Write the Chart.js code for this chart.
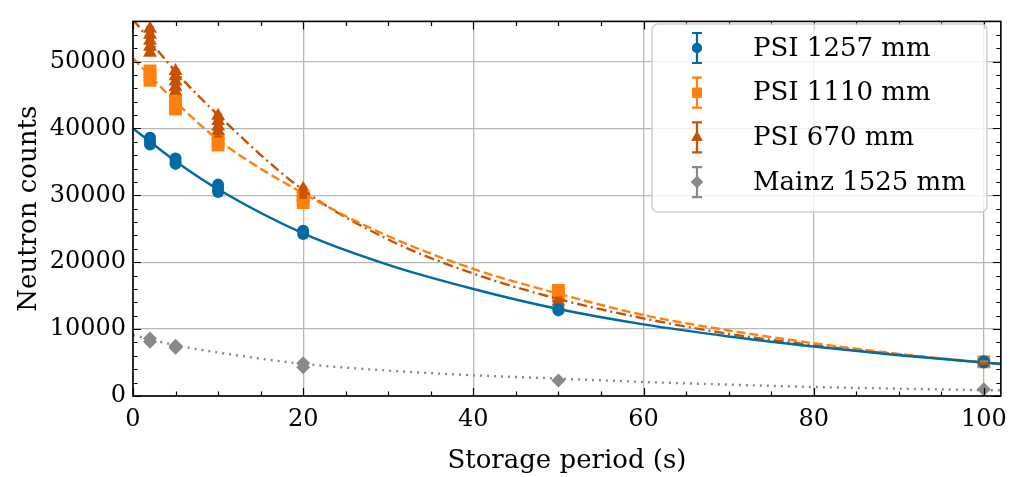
<!DOCTYPE html>
<html>
<head>
<meta charset="utf-8">
<script src="https://cdn.jsdelivr.net/npm/chart.js@4.4.1/dist/chart.umd.min.js"></script>
<style>
  html, body { margin: 0; padding: 0; background: #fff; }
  #wrap { width: 1016px; height: 477px; }
</style>
</head>
<body>
<div id="wrap"><canvas id="c" width="1016" height="477"></canvas></div>
<script>
// tick labels
const xTicks = [0, 20, 40, 60, 80, 100];
const yTicks = [0, 10000, 20000, 30000, 40000, 50000];

// fitted curves
const fitX = [0, 5, 10, 20, 30, 40, 50, 60, 70, 80, 90, 100, 102];
const fit1257 = [40000, 35100, 30900, 24300, 19600, 16000, 13000, 10700, 8900, 7400, 6100, 5000, 4800];
const fit1110 = [50500, 44000, 38300, 30300, 23900, 19000, 15300, 12100, 9800, 7900, 6300, 5000, 4750];
const fit670 = [56300, 48500, 42000, 30800, 23400, 18300, 14500, 11600, 9300, 7600, 6200, 5000, 4800];
const fitMainz = [9100, 7600, 6500, 4800, 3800, 3100, 2600, 2100, 1700, 1350, 1100, 880, 850];

// measurements
const psi1257X = [2, 2, 2, 5, 5, 5, 10, 10, 10, 20, 20, 50, 50, 100, 100];
const psi1257Y = [38600, 38100, 37600, 35500, 35000, 34700, 31600, 31000, 30500, 24700, 24200, 13000, 12800, 5200, 5000];
const psi1257Err = [197, 195, 194, 188, 187, 186, 178, 176, 175, 157, 156, 114, 113, 72, 71];

const psi1110X = [2, 2, 2, 5, 5, 5, 10, 10, 20, 20, 20, 50, 50, 100];
const psi1110Y = [48600, 47900, 47200, 44100, 43500, 42900, 38100, 37500, 29900, 29300, 28900, 15800, 15300, 5100];
const psi1110Err = [220, 219, 217, 210, 209, 207, 195, 194, 173, 171, 170, 126, 124, 71];

const psi670X = [2, 2, 2, 2, 2, 5, 5, 5, 5, 5, 10, 10, 10, 10, 10, 20, 20, 20, 50, 50, 100];
const psi670Y = [54900, 54000, 53100, 52200, 51300, 48600, 47800, 47000, 46200, 45500, 41900, 41100, 40300, 39600, 39000, 31000, 30400, 29800, 14600, 14100, 4900];
const psi670Err = [234, 232, 230, 228, 226, 220, 219, 217, 215, 213, 205, 203, 201, 199, 197, 176, 174, 173, 121, 119, 70];

const mainzX = [2, 2, 5, 5, 20, 20, 50, 100];
const mainzY = [8600, 8100, 7500, 7200, 4900, 4300, 2300, 1000];
const mainzErr = [93, 90, 87, 85, 70, 66, 48, 32];

const seriesNames = ['PSI 1257 mm', 'PSI 1110 mm', 'PSI 670 mm', 'Mainz 1525 mm'];

const xMajor = 20, xMinor = 5;
const yMajor = 10000, yMinor = 2000;

const BLUE = '#006BA4', ORANGE = '#FF800E', DARK = '#C85200', GREY = '#898989';
const FONT = "'DejaVu Serif', 'Liberation Serif', serif";

function pts(xs, ys, errs) {
  return xs.map((x, i) => ({ x: x, y: ys[i], err: errs ? errs[i] : 0 }));
}

function fitSet(ys, color, dash) {
  return {
    data: pts(fitX, ys), showLine: true, pointRadius: 0, borderColor: color,
    borderWidth: 2.4, borderDash: dash, cubicInterpolationMode: 'monotone', fill: false
  };
}

function markSet(xs, ys, errs, color, style, r) {
  return {
    data: pts(xs, ys, errs), showLine: false, pointStyle: style, pointRadius: r,
    backgroundColor: color, borderColor: color, borderWidth: 0, errColor: color
  };
}

const legendItems = [
  { label: seriesNames[0], color: BLUE, style: 'circle', r: 5 },
  { label: seriesNames[1], color: ORANGE, style: 'rect', r: 7 },
  { label: seriesNames[2], color: DARK, style: 'triangle', r: 6.5 },
  { label: seriesNames[3], color: GREY, style: 'rectRot', r: 6 }
];

const errorBars = {
  id: 'errorBars',
  afterDatasetsDraw(chart) {
    const { ctx, scales: { x, y } } = chart;
    ctx.save();
    chart.data.datasets.forEach(ds => {
      if (!ds.errColor) return;
      ctx.strokeStyle = ds.errColor;
      ctx.lineWidth = 2;
      ds.data.forEach(p => {
        const px = x.getPixelForValue(p.x);
        const y0 = y.getPixelForValue(p.y - p.err), y1 = y.getPixelForValue(p.y + p.err);
        ctx.beginPath();
        ctx.moveTo(px, y0); ctx.lineTo(px, y1);
        ctx.moveTo(px - 4, y0); ctx.lineTo(px + 4, y0);
        ctx.moveTo(px - 4, y1); ctx.lineTo(px + 4, y1);
        ctx.stroke();
      });
    });
    ctx.restore();
  }
};

const frameTicks = {
  id: 'frameTicks',
  afterDraw(chart) {
    const { ctx, chartArea: a, scales: { x, y } } = chart;
    ctx.save();
    ctx.strokeStyle = '#000';
    ctx.lineWidth = 1.2;
    ctx.beginPath();
    for (let v = 0; v <= x.max; v += xMinor) {
      const px = Math.round(x.getPixelForValue(v)) + 0.5;
      const len = v % xMajor === 0 ? 8 : 4.5;
      ctx.moveTo(px, a.bottom); ctx.lineTo(px, a.bottom - len);
      ctx.moveTo(px, a.top); ctx.lineTo(px, a.top + len);
    }
    for (let v = 0; v <= y.max; v += yMinor) {
      const py = Math.round(y.getPixelForValue(v)) + 0.5;
      const len = v % yMajor === 0 ? 8 : 4.5;
      ctx.moveTo(a.left, py); ctx.lineTo(a.left + len, py);
      ctx.moveTo(a.right, py); ctx.lineTo(a.right - len, py);
    }
    ctx.stroke();
    ctx.lineWidth = 1.6;
    ctx.strokeRect(a.left, a.top, a.width, a.height);

    // legend box
    const bx = 652, by = 24, bw = 335, bh = 188, rad = 6;
    ctx.beginPath();
    ctx.roundRect(bx, by, bw, bh, rad);
    ctx.fillStyle = 'rgba(255,255,255,0.8)';
    ctx.fill();
    ctx.strokeStyle = '#cfcfcf';
    ctx.lineWidth = 1.5;
    ctx.stroke();
    ctx.font = '26px ' + FONT;
    ctx.textBaseline = 'middle';
    ctx.textAlign = 'left';
    legendItems.forEach((it, i) => {
      const cy = by + 24 + i * 44.7, cx = 697;
      ctx.strokeStyle = it.color;
      ctx.lineWidth = 2.2;
      ctx.beginPath();
      ctx.moveTo(cx, cy - 15); ctx.lineTo(cx, cy + 15);
      ctx.moveTo(cx - 5, cy - 15); ctx.lineTo(cx + 5, cy - 15);
      ctx.moveTo(cx - 5, cy + 15); ctx.lineTo(cx + 5, cy + 15);
      ctx.stroke();
      ctx.fillStyle = it.color;
      Chart.helpers.drawPoint(ctx, { pointStyle: it.style, radius: it.r, borderWidth: 0, rotation: 0 }, cx, cy);
      ctx.fill();
      ctx.fillStyle = '#000';
      ctx.fillText(it.label, 753, cy + 1);
    });
    ctx.restore();
  }
};

Chart.defaults.font.family = FONT;
Chart.defaults.color = '#000';

new Chart(document.getElementById('c'), {
  type: 'scatter',
  data: {
    datasets: [
      fitSet(fit1257, BLUE, []),
      fitSet(fit1110, ORANGE, [9, 4]),
      fitSet(fit670, DARK, [10, 4, 2, 4]),
      fitSet(fitMainz, GREY, [2, 5]),
      markSet(psi1257X, psi1257Y, psi1257Err, BLUE, 'circle', 6),
      markSet(psi1110X, psi1110Y, psi1110Err, ORANGE, 'rect', 9),
      markSet(psi670X, psi670Y, psi670Err, DARK, 'triangle', 8),
      markSet(mainzX, mainzY, mainzErr, GREY, 'rectRot', 7)
    ]
  },
  options: {
    responsive: false,
    animation: false,
    layout: { padding: { top: 10, right: 13, left: 0, bottom: 0 } },
    plugins: { legend: { display: false }, tooltip: { enabled: false } },
    clip: true,
    scales: {
      x: {
        type: 'linear', min: 0, max: 102,
        afterFit(s) { s.height = 81; },
        afterBuildTicks(s) { s.ticks = xTicks.map(v => ({ value: v })); },
        grid: { color: '#b8b8b8', lineWidth: 1.3, drawTicks: false },
        border: { display: false },
        ticks: { padding: 9, font: { size: 24 }, maxRotation: 0, autoSkip: false },
        title: { display: true, text: 'Storage period (s)', font: { size: 26 }, padding: { top: 0, bottom: 0 } }
      },
      y: {
        type: 'linear', min: 0, max: 56000,
        afterFit(s) { s.width = 133; },
        afterBuildTicks(s) { s.ticks = yTicks.map(v => ({ value: v })); },
        grid: { color: '#b8b8b8', lineWidth: 1.3, drawTicks: false },
        border: { display: false },
        ticks: { padding: 7, font: { size: 24 }, autoSkip: false, callback: v => String(v) },
        title: { display: true, text: 'Neutron counts', font: { size: 26 }, padding: { top: 14, bottom: 4 } }
      }
    }
  },
  plugins: [errorBars, frameTicks]
});
</script>
</body>
</html>
